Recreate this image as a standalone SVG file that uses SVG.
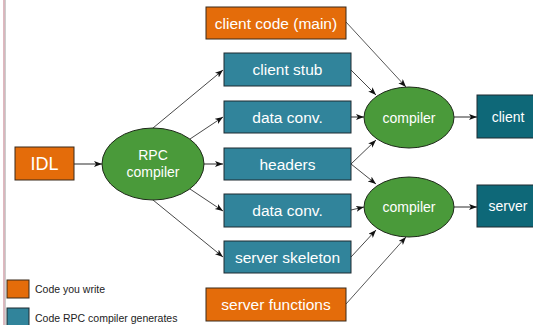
<svg xmlns="http://www.w3.org/2000/svg" width="533" height="325" viewBox="0 0 533 325">
<style>
.orange{fill:#E46C0A;stroke:#3a2a1a;stroke-width:1}
.teal{fill:#31849B;stroke:#1e2a30;stroke-width:1}
.dteal{fill:#0E6878;stroke:#1e2a30;stroke-width:1}
.green{fill:#4A9A3A;stroke:#1f2a1a;stroke-width:1}
.t{font-family:"Liberation Sans",Arial,sans-serif;fill:#fff;text-anchor:middle}
.bt{font-size:15.5px}
.et{font-size:14px}
.lg{font-family:"Liberation Sans",Arial,sans-serif;fill:#222;font-size:10.5px}
.thin{stroke:#333;stroke-width:0.9;fill:none;marker-end:url(#ah)}
.grey{stroke:#8a8a8a;stroke-width:1.8;fill:none;marker-end:url(#ah)}
.plain{stroke:#444;stroke-width:0.9;fill:none;marker-end:url(#ah)}
</style>
<defs>
<marker id="ah" markerUnits="userSpaceOnUse" markerWidth="9" markerHeight="7" refX="8" refY="3" orient="auto">
<path d="M0,0 L8,3 L0,6 L2,3 z" fill="#111"/>
</marker>
</defs>
<rect width="533" height="325" fill="#fff"/>
<line x1="4" y1="0" x2="4" y2="325" stroke="#c98a96" stroke-width="1.2"/>
<line x1="5.3" y1="0" x2="5.3" y2="325" stroke="#b0b0b0" stroke-width="0.8"/>

<g id="connectors">
<line class="grey" x1="74" y1="164" x2="102" y2="164"/>
<line class="thin" x1="153" y1="128" x2="223" y2="70"/>
<line class="thin" x1="190" y1="139" x2="223" y2="117"/>
<line class="grey" x1="204" y1="164" x2="223" y2="164"/>
<line class="thin" x1="190" y1="189" x2="223" y2="211"/>
<line class="thin" x1="153" y1="200" x2="223" y2="257"/>
<line class="plain" x1="346" y1="22" x2="406" y2="87"/>
<line class="thin" x1="351" y1="70" x2="376" y2="95"/>
<line class="grey" x1="351" y1="117" x2="364" y2="117"/>
<line class="thin" x1="351" y1="164" x2="376" y2="140"/>
<line class="thin" x1="351" y1="164" x2="376" y2="184"/>
<line class="thin" x1="351" y1="210" x2="364" y2="207"/>
<line class="thin" x1="351" y1="257" x2="376" y2="230"/>
<line class="plain" x1="346" y1="304" x2="406" y2="237"/>
<line class="grey" x1="454" y1="117" x2="477" y2="117"/>
<line class="grey" x1="454" y1="207" x2="477" y2="207"/>
</g>

<g id="idl"><rect class="orange" x="15" y="147" width="59" height="33"/><text class="t" x="44.5" y="170" font-size="18">IDL</text></g>
<g id="rpc"><ellipse class="green" cx="153" cy="164" rx="51" ry="36"/><text class="t et" x="153" y="160">RPC</text><text class="t et" x="153" y="177">compiler</text></g>
<g id="client-code"><rect class="orange" x="206" y="7" width="140" height="32"/><text class="t bt" x="276" y="28.5">client code (main)</text></g>
<g id="client-stub"><rect class="teal" x="224" y="53" width="127" height="33"/><text class="t bt" x="287.5" y="75">client stub</text></g>
<g id="data-conv-1"><rect class="teal" x="224" y="101" width="127" height="32"/><text class="t bt" x="287.5" y="122.5">data conv.</text></g>
<g id="headers"><rect class="teal" x="224" y="148" width="127" height="32"/><text class="t bt" x="287.5" y="169.5">headers</text></g>
<g id="data-conv-2"><rect class="teal" x="224" y="194" width="127" height="33"/><text class="t bt" x="287.5" y="216">data conv.</text></g>
<g id="server-skeleton"><rect class="teal" x="224" y="241" width="127" height="32"/><text class="t bt" x="287.5" y="262.5">server skeleton</text></g>
<g id="server-functions"><rect class="orange" x="206" y="288" width="140" height="33"/><text class="t bt" x="276" y="310">server functions</text></g>
<g id="compiler-1"><ellipse class="green" cx="409" cy="117.5" rx="45" ry="30.5"/><text class="t et" x="409" y="122.5">compiler</text></g>
<g id="compiler-2"><ellipse class="green" cx="409" cy="207" rx="45" ry="30"/><text class="t et" x="409" y="212">compiler</text></g>
<g id="client"><rect class="dteal" x="477" y="95" width="62" height="43"/><text class="t et" x="508" y="121.5">client</text></g>
<g id="server"><rect class="dteal" x="477" y="185" width="62" height="42"/><text class="t et" x="508" y="211">server</text></g>

<g id="legend">
<rect class="orange" x="7" y="280" width="22" height="18"/>
<text class="lg" x="35" y="293">Code you write</text>
<rect class="teal" x="7" y="308" width="22" height="19"/>
<text class="lg" x="35" y="322">Code RPC compiler generates</text>
</g>
</svg>
